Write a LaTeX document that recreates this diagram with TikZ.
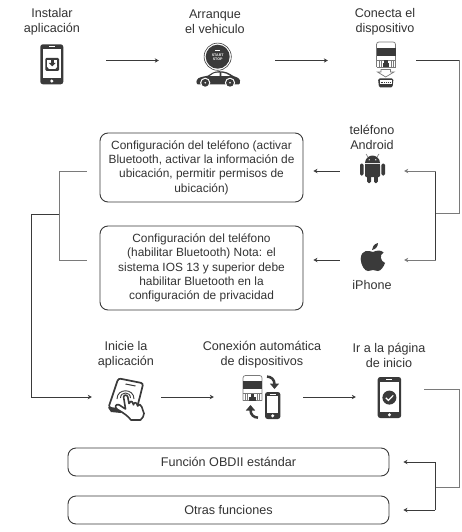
\documentclass[tikz,border=0pt]{standalone}
\usepackage{fontspec}
\setmainfont{Liberation Sans}
\usetikzlibrary{arrows.meta,calc}
\definecolor{ink}{HTML}{3A3A3A}
\definecolor{txt}{HTML}{333333}
\definecolor{grayline}{HTML}{7A7A7A}
\tikzset{
  lbl/.style={align=center,text=txt,font=\fontsize{12.6}{15}\selectfont,inner sep=0pt},
  roundbox/.style={draw=ink,line width=0.9pt,rounded corners=8pt,align=center,text=txt,
     font=\fontsize{11.9}{14.4}\selectfont,inner sep=0pt,minimum width=#1},
  bigtext/.style={font=\fontsize{12.6}{15}\selectfont},
  gap/.style={inner sep=0pt,minimum height=2pt,minimum width=#1},
  conn/.style={draw=ink,line width=0.8pt},
  conng/.style={draw=grayline,line width=1pt},
  arr/.style={-{Stealth[length=4pt,width=4.4pt]}},
  glyph/.style={fill=ink,draw=none}
}
\newcommand{\phoneglyph}[5]{% x y w h topbezel
  \begin{scope}[shift={(#1,#2)}]
    \fill[ink,rounded corners=2.6pt] (0,0) rectangle (#3,#4);
    \fill[white] (2.2,#5) rectangle ({#3-2.2},{#4-6.5});
    \fill[white] ({#3/2},{#4-3.2}) circle (1.7pt);
    \draw[white,line width=0.7pt] ({#3/2-3},2.4) -- ({#3/2+3},2.4);
  \end{scope}}
\newcommand{\obdglyph}[2]{%
  \begin{scope}[shift={(#1,#2)}]
    \draw[grayline,line width=0.7pt,fill=white,rounded corners=2.4pt] (0,25) -- (0,0) -- (19,0) -- (19,25);
    \draw[grayline,line width=0.7pt] (0,25) -- (19,25);
    \fill[ink] (0,5.6) rectangle (19,13.6);
    \draw[grayline,line width=0.6pt] (0,18) -- (19,18);
    \foreach \px in {2.5,4.5,14.5,16.5} \draw[grayline,line width=0.5pt] (\px,18) -- (\px,25);
    \fill[ink] (7.8,18.5) rectangle (11.2,21);
    \fill[ink] (6.4,21) rectangle (12.6,25);
  \end{scope}}
\begin{document}
\begin{tikzpicture}[x=1pt,y=-1pt]
\useasboundingbox (0,0) rectangle (461,532);
\fill[white] (0,0) rectangle (461,532);

% ---- labels
\node[lbl] (t1) at (52,21.5) {Instalar\\aplicación};
\node[lbl] (t2) at (215,21.5) {Arranque\\el vehiculo};
\node[lbl] (t3) at (385,21.5) {Conecta el\\dispositivo};
\node[lbl] (t4) at (372,137.5) {teléfono\\Android};
\node[lbl] (t5) at (372,285) {iPhone};
\node[lbl] (t6) at (126,355) {Inicie la\\aplicación};
\node[lbl] (t7) at (262,355) {Conexión automática\\de dispositivos};
\node[lbl] (t8) at (389,355) {Ir a la página\\de inicio};

% ---- flow anchors that hold the icons
\node[gap=108pt] (install) at (52,60.5) {};
\node[gap=116pt] (start)   at (217,60.5) {};
\node[gap=88pt]  (device)  at (372,60.5) {};
\node[gap=64pt]  (android) at (372,171) {};
\node[gap=64pt]  (iphone)  at (372,260) {};
\node[gap=69pt]  (launch)  at (126.5,397) {};
\node[gap=89pt]  (auto)    at (258.5,397) {};
\node[gap=68pt]  (home)    at (390,397) {};

% ---- boxes
\node[roundbox=203pt,minimum height=69pt] (cfgA) at (201.5,167.5)
  {Configuración del teléfono (activar\\Bluetooth, activar la información de\\ubicación, permitir permisos de\\ubicación)};
\node[roundbox=203pt,minimum height=84pt] (cfgI) at (201.5,268)
  {Configuración del teléfono\\(habilitar Bluetooth) Nota: el\\sistema IOS 13 y superior debe\\habilitar Bluetooth en la\\configuración de privacidad};
\node[roundbox=321pt,bigtext,minimum height=28pt] (std) at (228.5,462) {Función OBDII estándar};
\node[roundbox=321pt,bigtext,minimum height=28pt] (oth) at (228.5,510) {Otras funciones};

% ---- junctions
\coordinate (rtop) at (459.5,213);
\coordinate (jphone) at (435.7,213);
\coordinate (jcfg) at (59,214);
\coordinate (lcol) at (31.8,214);
\coordinate (rbot) at (459.5,487);
\coordinate (jfun) at (435,487);
\coordinate (homeout) at ([yshift=8pt]home.east);

% ---- connectors
\draw[conn,arr] (install.east) -- (start.west);
\draw[conn,arr] (start.east) -- (device.west);
\draw[conn] (device.east) -- (rtop |- device.east);
\draw[conng] (rtop |- device.east) -- (rtop) -- (jphone);
\draw[conn] (jphone |- android.east) -- (jphone |- iphone.east);
\draw[conng,arr] (jphone |- android.east) -- (android.east);
\draw[conng,arr] (jphone |- iphone.east) -- (iphone.east);
\draw[conn,arr,shorten >=10pt] (android.west) -- (android.west -| cfgA.east);
\draw[conn,arr,shorten >=10pt] (iphone.west) -- (iphone.west -| cfgI.east);
\draw[conng,shorten <=13pt] (android.west -| cfgA.west) -- (jcfg |- android.west) -- (jcfg |- iphone.west) -- (iphone.west -| jcfg);
\draw[conng,shorten >=13pt] (iphone.west -| jcfg) -- (iphone.west -| cfgI.west);
\draw[conn] (jcfg) -- (lcol);
\draw[conn,arr] (lcol) -- (lcol |- launch.west) -- (launch.west);
\draw[conn,arr] (launch.east) -- (auto.west);
\draw[conn,arr] (auto.east) -- (home.west);
\draw[conng] (homeout) -- (rbot |- homeout) -- (rbot) -- (jfun);
\draw[conn] (jfun |- std.east) -- (jfun |- oth.east);
\draw[conn,arr,shorten >=14pt] (jfun |- std.east) -- (std.east);
\draw[conn,arr,shorten >=14pt] (jfun |- oth.east) -- (oth.east);

% ---- icon: install phone
\phoneglyph{40.3}{44.3}{23}{40}{5}
\fill[ink,rounded corners=1.2pt] (45.3,58) rectangle (59,71);
\fill[white] (47,59.8) rectangle (57.3,66.6);
\fill[ink] (50.8,60.5) rectangle (53.5,63.2);
\fill[ink] (48.8,63) -- (55.5,63) -- (52.15,66.4) -- cycle;
\fill[white] (47,66.6) -- (49,69) -- (55.3,69) -- (57.3,66.6) -- cycle;

% ---- icon: start/stop and car
\draw[ink,line width=0.6pt] (217.7,56.7) circle (13.6pt);
\fill[ink] (217.7,56.7) circle (12pt);
\draw[white,line width=0.8pt] (215.2,50.4) -- (220.2,50.4);
\node[text=white,font=\fontsize{3.6}{4.3}\selectfont\bfseries,align=center,inner sep=0pt] (startstop) at (217.7,57.5) {START\\STOP};
\fill[ink] (198,84.5) .. controls (196,84) and (195.7,80) .. (198.5,78.2)
  .. controls (201,76.8) and (205,76.3) .. (208,75.6)
  .. controls (211,73.6) and (213.5,71.4) .. (219,71.2)
  .. controls (225,71) and (229,73) .. (233,75.8)
  .. controls (236,76.8) and (239.5,78) .. (240,80.5)
  .. controls (240.4,82.5) and (240,84) .. (238.5,84.5) -- cycle;
\fill[white] (209.8,76) .. controls (212,74) and (214,72.6) .. (219.7,72.5) -- (219.7,76) -- cycle;
\fill[white] (221.3,72.6) .. controls (225,72.7) and (227.5,74) .. (230.2,76) -- (221.3,76) -- cycle;
\foreach \cx in {205.2,230} {
  \fill[white] (\cx,82.8) circle (5.1pt);
  \fill[ink] (\cx,82.8) circle (3.9pt);
  \fill[white] (\cx,82.8) circle (0.9pt);
}

% ---- icon: OBD device
\obdglyph{376.5}{42}
\draw[grayline,line width=0.7pt,fill=white] (381,69.5) -- (390.5,69.5) -- (390.5,72) -- (394,72) -- (385.7,77) -- (377.5,72) -- (381,72) -- cycle;
\fill[ink,rounded corners=1.5pt] (378,78.5) -- (393.5,78.5) -- (392.5,87.5) -- (379,87.5) -- cycle;
\fill[white] (380,80.3) rectangle (391.5,84);
\draw[ink,line width=0.5pt,dash pattern=on 1pt off 0.8pt] (380.5,82.5) -- (391,82.5);

% ---- icon: Android
\fill[ink] (365,163) .. controls (365,158.5) and (369,155.5) .. (372.5,155.5)
  .. controls (376,155.5) and (380,158.5) .. (380,163) -- cycle;
\draw[grayline,line width=0.6pt] (368,157) -- (366,154);
\draw[grayline,line width=0.6pt] (377,157) -- (379,154);
\fill[white] (369.2,159.8) circle (0.7pt);
\fill[white] (375.8,159.8) circle (0.7pt);
\fill[ink,rounded corners=1.2pt] (365,164.4) rectangle (380,177);
\fill[ink] (365,164.4) rectangle (380,170);
\fill[ink,rounded corners=1.4pt] (360,163.5) rectangle (363.6,175.5);
\fill[ink,rounded corners=1.4pt] (381.4,163.5) rectangle (385,175.5);
\fill[ink,rounded corners=1.4pt] (367.2,175) rectangle (371,183);
\fill[ink,rounded corners=1.4pt] (374,175) rectangle (377.8,183);

% ---- icon: Apple
\fill[ink] (373,252) .. controls (369,250.5) and (361,249) .. (360.7,259)
  .. controls (360.7,265) and (365,271.5) .. (368,271)
  .. controls (370,271) and (371,270) .. (373,270)
  .. controls (375,270) and (376,271) .. (378,271)
  .. controls (381,271) and (384,266) .. (385,263)
  .. controls (380.5,261) and (379,255) .. (383.5,252.5)
  .. controls (381,249.5) and (376,250.5) .. (373,252) -- cycle;
\fill[ink] (372,250) .. controls (372,247) and (374,244) .. (378,243)
  .. controls (378,246.5) and (375.5,249.5) .. (372,250) -- cycle;

% ---- icon: hand on card
\fill[ink] (108,407.5) -- (111,412) -- (121,413) -- (121,405) -- cycle;
\draw[ink,line width=1.7pt,fill=white,rounded corners=2.5pt] (118.3,378.3) -- (143.3,383.3) -- (136,412) -- (108.5,407.5) -- cycle;
\draw[ink,line width=1pt] (125.5,384) -- (135.5,386);
\draw[ink,line width=0.9pt] (120.5,398) .. controls (120.5,391.3) and (130.5,391.3) .. (130.5,398);
\draw[ink,line width=0.9pt] (117,399) .. controls (117,388) and (134,388) .. (134,399);
\draw[ink,line width=1.6pt,fill=white,line join=round]
  (123.6,397) .. controls (123.6,394.5) and (127.5,394.5) .. (127.8,397)
  -- (129,403.5) .. controls (129,401) and (132.5,400.5) .. (133,403.5)
  -- (133.5,404.8) .. controls (133.8,402) and (136.8,402) .. (137.3,405)
  -- (137.6,406) .. controls (138,403.5) and (141,404) .. (141.6,406.5)
  -- (144,413.5) .. controls (144,416) and (142.5,418) .. (140.5,420)
  -- (131,420) .. controls (128,416) and (123,412.5) .. (117.5,409.5)
  .. controls (114,407.5) and (115.5,403.5) .. (119,404.8)
  -- (125.5,409) -- cycle;

% ---- icon: auto connection
\obdglyph{243}{375.5}
\phoneglyph{265}{392}{15.4}{27}{4}
\fill[white] (267.2,396) rectangle (278.2,412.6);
\draw[ink,line width=2.5pt] (267,376.6) .. controls (271,376.6) and (274.5,379.5) .. (274.5,384);
\fill[ink] (269.8,383.5) -- (279.2,383.5) -- (274.5,389) -- cycle;
\draw[ink,line width=2.5pt] (258,417.6) .. controls (254,417.6) and (250.5,415) .. (250.5,410);
\fill[ink] (245.8,410.5) -- (255.2,410.5) -- (250.5,405) -- cycle;

% ---- icon: home phone
\phoneglyph{377.7}{377}{23.5}{41}{5}
\fill[ink] (389.4,397.6) circle (7pt);
\draw[white,line width=1.2pt] (385.7,397.8) -- (388.4,400.4) -- (393.2,395.4);
\end{tikzpicture}
\end{document}
